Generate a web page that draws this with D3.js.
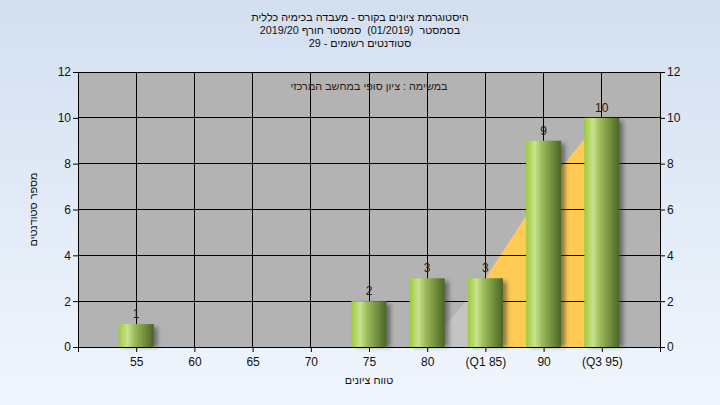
<!DOCTYPE html>
<html><head><meta charset="utf-8">
<script src="https://cdn.jsdelivr.net/npm/d3@7"></script>
<style>body{margin:0;padding:0;overflow:hidden}svg{display:block}text{font-family:"Liberation Sans",Arial,sans-serif}.pre{white-space:pre}</style>
</head><body>
<script>
const titleLines = ["היסטוגרמת ציונים בקורס - מעבדה בכימיה כללית", "בסמסטר  (01/2019)  סמסטר חורף 2019/20", "סטודנטים רשומים - 29"];
const subtitle = "במשימה : ציון סופי במחשב המרכזי";
const xTitle = "טווח ציונים";
const yTitle = "מספר סטודנטים";
const grades = [55, 60, 65, 70, 75, 80, 85, 90, 95];
const tickLabels = ["55", "60", "65", "70", "75", "80", "(Q1 85)", "90", "(Q3 95)"];
const counts = [1, 0, 0, 0, 2, 3, 3, 9, 10];
const areaGrades = [80, 85, 90, 95];
const areaValues = [0, 3, 6.9, 10];
const yTicks = [0, 2, 4, 6, 8, 10, 12];

const W = 720, H = 405;
const m = {l: 78, r: 60, t: 72, b: 58};
const HE = 10.8;
const svg = d3.select("body").append("svg").attr("width", W).attr("height", H);
const defs = svg.append("defs");
const bg = defs.append("linearGradient").attr("id", "bg").attr("x1", 0).attr("y1", 0).attr("x2", 0).attr("y2", 1);
bg.append("stop").attr("offset", 0).attr("stop-color", "#d3dff0");
bg.append("stop").attr("offset", 1).attr("stop-color", "#f0f6fd");
const bar = defs.append("linearGradient").attr("id", "bar").attr("x1", 0).attr("y1", 0).attr("x2", 1).attr("y2", 0);
[[0, "#9dcb3c"], [0.25, "#c9e28f"], [0.45, "#9dbb5a"], [1, "#4b6626"]].forEach(s =>
  bar.append("stop").attr("offset", s[0]).attr("stop-color", s[1]));
const f = defs.append("filter").attr("id", "sh").attr("x", "-50%").attr("y", "-10%").attr("width", "200%").attr("height", "130%");
f.append("feGaussianBlur").attr("stdDeviation", 2);

svg.append("rect").attr("width", W).attr("height", H).attr("fill", "url(#bg)");

const x = d3.scaleLinear().domain([50, 100]).range([m.l, W - m.r]);
const y = d3.scaleLinear().domain([0, 12]).range([H - m.b, m.t]);
const x0 = x(50), x1 = x(100), y0 = y(0), y1 = y(12);

svg.append("rect").attr("x", x0).attr("y", y1).attr("width", x1 - x0).attr("height", y0 - y1).attr("fill", "#b3b3b3");

// area
const pts = areaGrades.map((g, i) => [g, areaValues[i]]);
const area = d3.area().x(d => x(d[0])).y0(y0).y1(d => y(d[1]));
svg.append("path").datum(pts.slice(0, 2)).attr("d", area).attr("fill", "#c4c4c4");
svg.append("path").datum(pts.slice(1)).attr("d", area).attr("fill", "#ffcb55");

// grid
const g = svg.append("g").attr("stroke", "#000").attr("stroke-width", 1).attr("shape-rendering", "crispEdges");
yTicks.forEach(t => g.append("line").attr("x1", x0).attr("x2", x1).attr("y1", y(t)).attr("y2", y(t)));
grades.forEach(v => g.append("line").attr("x1", x(v)).attr("x2", x(v)).attr("y1", y1).attr("y2", y0));

// bars
const bw = 35;
const data = grades.map((v, i) => ({v, c: counts[i], l: tickLabels[i]})).filter(d => d.c > 0);
svg.append("g").selectAll("rect").data(data).join("rect")
  .attr("x", d => x(d.v) - bw / 2 + 4).attr("y", d => y(d.c) + 3).attr("width", bw).attr("height", d => y0 - y(d.c) - 3)
  .attr("fill", "#333").attr("opacity", 0.55).attr("filter", "url(#sh)");
svg.append("g").selectAll("rect").data(data).join("rect")
  .attr("x", d => x(d.v) - bw / 2).attr("y", d => y(d.c)).attr("width", bw).attr("height", d => y0 - y(d.c))
  .attr("fill", "url(#bar)");
svg.append("g").selectAll("text").data(data).join("text")
  .attr("x", d => x(d.v)).attr("y", d => y(d.c) - 6).attr("text-anchor", "middle")
  .attr("font-size", 12).attr("fill", "#2a1a10").text(d => d.c);

// axes
const axL = d3.axisLeft(y).tickValues(yTicks).tickSize(5).tickPadding(2);
const axR = d3.axisRight(y).tickValues(yTicks).tickSize(5).tickPadding(2);
const axB = d3.axisBottom(x).tickValues(grades).tickFormat((d, i) => tickLabels[i]).tickSize(5).tickPadding(5);
function style(sel) {
  sel.selectAll("line").attr("stroke", "#000");
  sel.selectAll("text").attr("font-size", 12).attr("fill", "#111").attr("font-family", '"Liberation Sans",Arial,sans-serif');
}
svg.append("g").attr("transform", `translate(${x0},0)`).call(axL).call(style).select(".domain").remove();
svg.append("g").attr("transform", `translate(${x1},0)`).call(axR).call(style).select(".domain").remove();
svg.append("g").attr("transform", `translate(0,${y0})`).call(axB).call(style).select(".domain").remove();
const ax = svg.append("g").attr("stroke", "#000").attr("shape-rendering", "crispEdges");
ax.append("line").attr("x1", x0).attr("x2", x0).attr("y1", y1).attr("y2", y0 + 5);
ax.append("line").attr("x1", x1).attr("x2", x1).attr("y1", y1).attr("y2", y0 + 5);
ax.append("line").attr("x1", x0).attr("x2", x1).attr("y1", y0).attr("y2", y0);

// titles
svg.append("g").selectAll("text").data(titleLines).join("text")
  .attr("class", "pre")
  .attr("x", W / 2).attr("y", (d, i) => 21 + i * 13).attr("text-anchor", "middle")
  .attr("direction", "rtl").style("unicode-bidi", "plaintext")
  .attr("font-size", HE).attr("fill", "#111").text(d => d);
svg.append("text").attr("x", (x0 + x1) / 2).attr("y", 90).attr("text-anchor", "middle")
  .attr("font-size", HE).attr("fill", "#2a1a10").text(subtitle);
svg.append("text").attr("x", (x0 + x1) / 2).attr("y", 384).attr("text-anchor", "middle")
  .attr("font-size", HE).attr("fill", "#111").text(xTitle);
svg.append("text").attr("transform", `translate(37,${(y0 + y1) / 2}) rotate(-90)`).attr("text-anchor", "middle")
  .attr("font-size", HE).attr("fill", "#111").text(yTitle);
</script>
</body></html>
